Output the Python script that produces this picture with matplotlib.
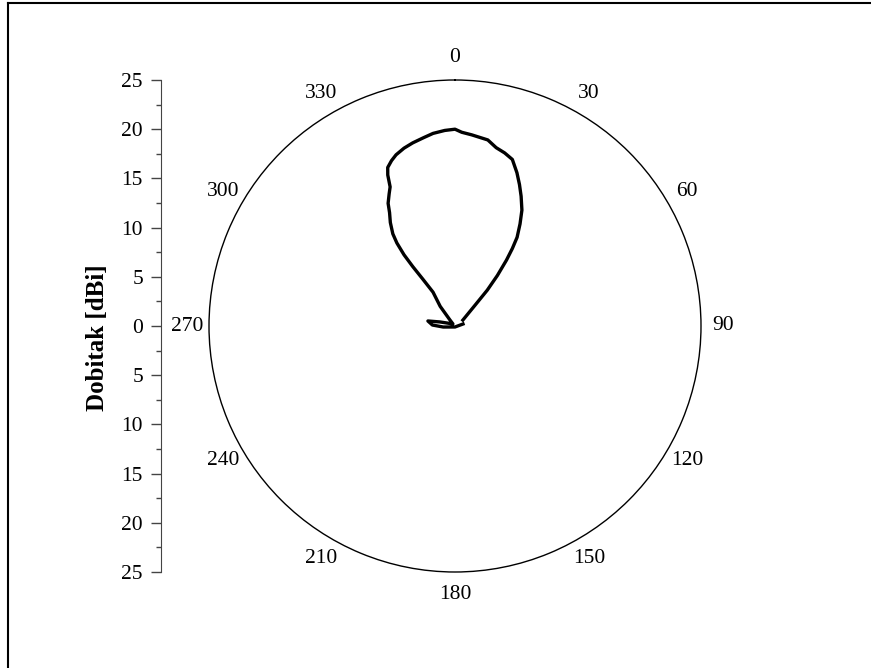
import numpy as np
import matplotlib
matplotlib.use("Agg")
import matplotlib.pyplot as plt
from matplotlib.lines import Line2D

plt.rcParams['font.family'] = ['Liberation Serif', 'DejaVu Serif']

# radiation pattern, angle in degrees (clockwise from top), gain in dBi
angles = [53, 44, 42, 40, 38, 36.5, 35, 32.5, 30, 27, 24.5, 22, 19, 16, 13,
          10, 5, 2, 0, -3, -6.5, -9.5, -13, -16, -19, -21, -23, -24, -25,
          -26.5, -28.6, -30, -32, -34, -35, -35.6, -35.4, -34.5, -33, -37,
          -40, -45, -75, -79.5, -87.5, -95, -180, -284]
gain = [1.0, 2.9, 4.9, 6.7, 8.5, 9.8, 11.0, 12.3, 13.6, 14.8, 15.8, 16.8,
        17.9, 18.3, 18.6, 19.2, 19.5, 19.7, 20.0, 19.9, 19.7, 19.4, 19.1,
        18.8, 18.4, 18.0, 17.5, 16.8, 15.6, 15.0, 14.2, 13.3, 12.4, 11.3,
        10.3, 8.9, 7.4, 5.8, 4.1, 2.5, 0.8, 0.3, 1.6, 2.8, 2.3, 1.2, 0.1,
        0.84]

theta_ticks = [0, 30, 60, 90, 120, 150, 180, 210, 240, 270, 300, 330]
r_ticks = [-25, -20, -15, -10, -5, 0, 5, 10, 15, 20, 25]

W, H = 871, 668
fig = plt.figure(figsize=(W / 100, H / 100), dpi=100)

# polar part
ax = fig.add_axes([209 / W, 96 / H, 492 / W, 492 / H], projection='polar')
ax.set_theta_zero_location('N')
ax.set_theta_direction(-1)
ax.plot(np.radians(angles), gain, color='black', lw=2.4,
        solid_joinstyle='round')
ax.set_ylim(0, 25)
ax.set_yticks([])
ax.set_xticks(np.radians(theta_ticks))
ax.set_xticklabels([str(t) for t in theta_ticks], fontsize=15.5)
ax.tick_params(axis='x', length=0, pad=9)
ax.grid(False)
ax.spines['polar'].set_linewidth(1.0)

# left gain scale
ax2 = fig.add_axes([161 / W, 96 / H, 0.0001, 492 / H])
ax2.set_ylim(-25, 25)
ax2.set_xticks([])
for s in ['top', 'right', 'bottom']:
    ax2.spines[s].set_visible(False)
ax2.spines['left'].set_color('#444444')
ax2.set_yticks(r_ticks)
ax2.set_yticklabels([str(abs(v)) for v in r_ticks], fontsize=15.5)
ax2.set_yticks(np.arange(-22.5, 25, 5), minor=True)
ax2.tick_params(axis='y', which='major', direction='out', length=7, width=1,
                color='#444444', pad=6)
ax2.tick_params(axis='y', which='minor', direction='out', length=3.5, width=1,
                color='#444444')
fig.text(97 / W, 1 - 338 / H, 'Dobitak [dBi]', rotation=90, fontsize=18,
         fontweight='bold', ha='center', va='center')

# frame
fig.add_artist(Line2D([8 / W, 8 / W], [0, 1 - 3 / H], color='black', lw=1.5,
                      transform=fig.transFigure))
fig.add_artist(Line2D([8 / W, 1], [1 - 3 / H, 1 - 3 / H], color='black', lw=1.5,
                      transform=fig.transFigure))

fig.savefig('out.png', dpi=100)
